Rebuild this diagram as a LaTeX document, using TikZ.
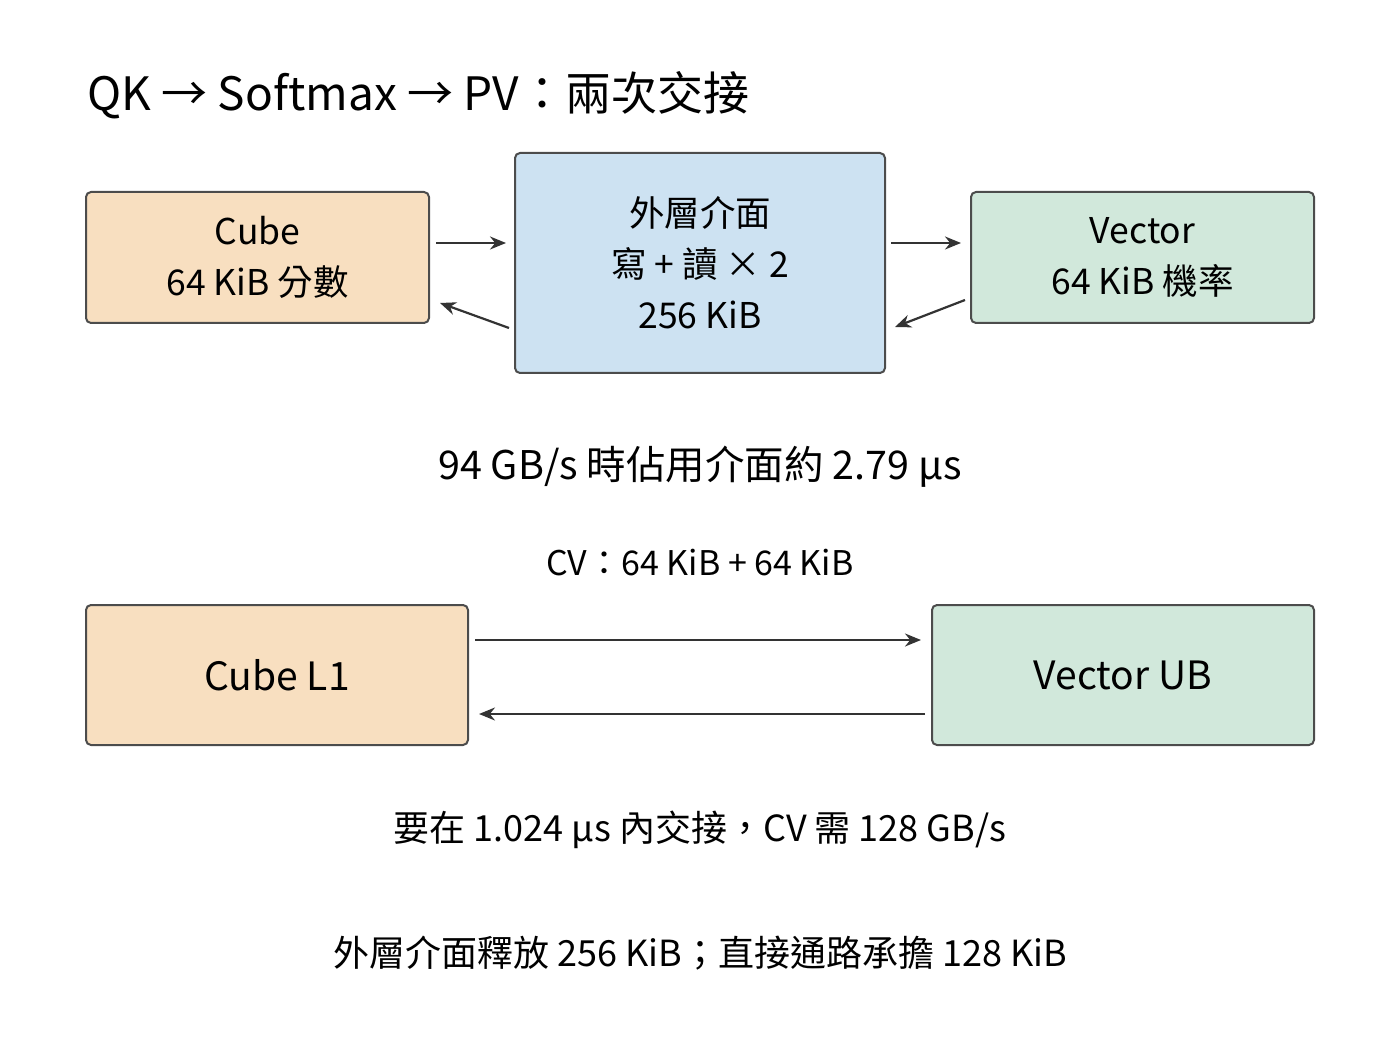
\documentclass[tikz,border=0pt]{standalone}
\usepackage{fontspec}
\setmainfont{Noto Sans CJK TC}
\usetikzlibrary{arrows.meta}
\begin{document}
\begin{tikzpicture}[x=1pt,y=-1pt,
 box/.style={draw=black!70,line width=2pt,rounded corners=5pt,inner sep=0pt},
 lbl/.style={font=\fontsize{35.5}{51}\selectfont,align=center},
 arr/.style={draw=black!80,line width=2.2pt,-{Stealth[length=16pt,width=13pt]}},
 txt/.style={font=\fontsize{36}{40}\selectfont}]
\useasboundingbox (0,0) rectangle (1400,1056);
\definecolor{cor}{HTML}{F8DFC0}\definecolor{cbl}{HTML}{CDE2F2}\definecolor{cgr}{HTML}{D1E8DB}
\node[anchor=west,font=\fontsize{46}{50}\selectfont] (title) at (84,95) {QK → Softmax → PV：兩次交接};
\node[box,fill=cor,minimum width=343pt,minimum height=131pt] (cube) at (257.5,257.5) {};
\node[lbl] (cubet) at (257.5,257.5) {Cube\\64 KiB 分數};
\node[box,fill=cbl,minimum width=370pt,minimum height=220pt] (mid) at (700,263) {};
\node[lbl] (midt) at (700,263) {外層介面\\寫 + 讀 × 2\\256 KiB};
\node[box,fill=cgr,minimum width=343pt,minimum height=131pt] (vec) at (1142.5,257.5) {};
\node[lbl] (vect) at (1142.5,257.5) {Vector\\64 KiB 機率};
\coordinate (a1) at (436,243); \coordinate (a2) at (506,243);
\coordinate (b1) at (509,328); \coordinate (b2) at (440,303);
\coordinate (c1) at (891,243); \coordinate (c2) at (961,243);
\coordinate (d1) at (965,300); \coordinate (d2) at (895,327);
\draw[arr] (a1) -- (a2); \draw[arr] (b1) -- (b2);
\draw[arr] (c1) -- (c2); \draw[arr] (d1) -- (d2);
\node[txt,font=\fontsize{39.5}{40}\selectfont] (t1) at (700,467) {94 GB/s 時佔用介面約 2.79 μs};
\node[txt,font=\fontsize{34}{38}\selectfont] (t2) at (700,563) {CV：64 KiB + 64 KiB};
\node[box,fill=cor,minimum width=382pt,minimum height=140pt] (l1) at (277,675) {};
\node[lbl,font=\fontsize{39}{44}\selectfont] (l1t) at (277,675) {Cube L1};
\node[box,fill=cgr,minimum width=382pt,minimum height=140pt] (ub) at (1123,675) {};
\node[lbl,font=\fontsize{39}{44}\selectfont] (ubt) at (1123,675) {Vector UB};
\coordinate (e1) at (475,640); \coordinate (e2) at (921,640);
\coordinate (f1) at (925,714); \coordinate (f2) at (479,714);
\draw[arr] (e1) -- (e2); \draw[arr] (f1) -- (f2);
\node[txt] (t3) at (700,830) {要在 1.024 μs 內交接，CV 需 128 GB/s};
\node[txt] (t4) at (700,953) {外層介面釋放 256 KiB；直接通路承擔 128 KiB};
\end{tikzpicture}
\end{document}
